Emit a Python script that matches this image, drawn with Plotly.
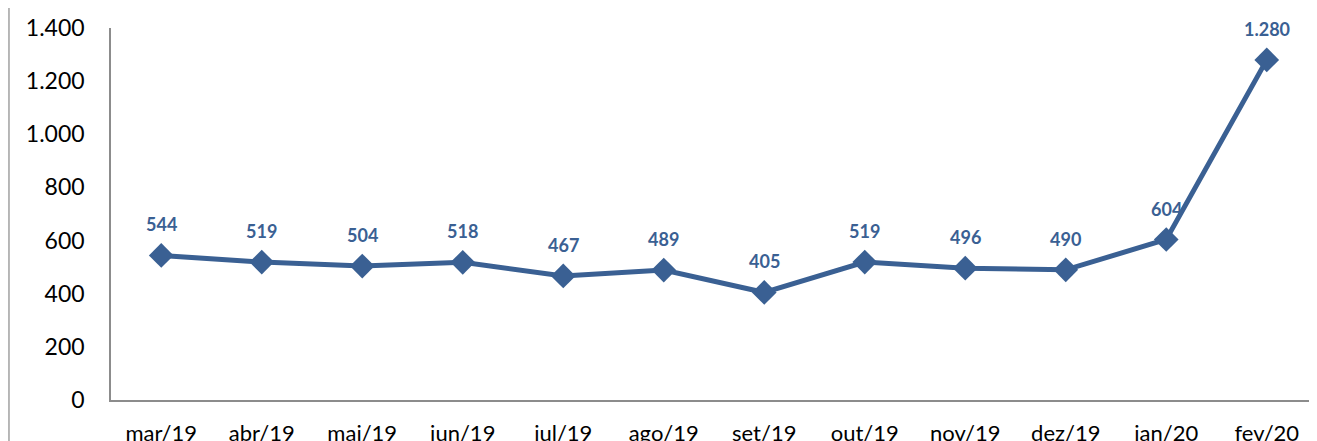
import plotly.graph_objects as go

months = ["mar/19", "abr/19", "mai/19", "jun/19", "jul/19", "ago/19",
          "set/19", "out/19", "nov/19", "dez/19", "jan/20", "fev/20"]
values = [544, 519, 504, 518, 467, 489, 405, 519, 496, 490, 604, 1280]
y_ticks = [0, 200, 400, 600, 800, 1000, 1200, 1400]
y_tick_text = ["0", "200", "400", "600", "800", "1.000", "1.200", "1.400"]


def fmt(v):
    return f"{v:,}".replace(",", ".")


color = "#3A6093"
fig = go.Figure()
fig.add_trace(go.Scatter(
    x=months, y=values, mode="lines+markers",
    line=dict(color=color, width=5),
    marker=dict(symbol="diamond", size=19, color=color),
    hoverinfo="skip",
))
for m, v in zip(months, values):
    fig.add_annotation(x=m, y=v, text=f"<b>{fmt(v)}</b>", showarrow=False,
                       yshift=31, font=dict(family="Lato", size=18, color=color))

fig.add_shape(type="line", xref="paper", yref="paper",
              x0=-0.0846, x1=-0.0846, y0=-0.2, y1=1.2,
              line=dict(color="#A0A0A0", width=1.5))

fig.update_layout(
    width=1309, height=433,
    margin=dict(l=103, r=0, t=20, b=41, autoexpand=False),
    paper_bgcolor="white", plot_bgcolor="white",
    showlegend=False,
    font=dict(family="Lato", size=22, color="#000000"),
    xaxis=dict(range=[-0.5, 11.5], showgrid=False, zeroline=False,
               showline=True, linecolor="#8C8C8C", linewidth=1.5,
               ticks="outside", ticklen=0, tickcolor="rgba(0,0,0,0)",
               ticklabelstandoff=13, automargin=False, fixedrange=True,
               tickfont=dict(size=22)),
    yaxis=dict(range=[0, 1400], tickvals=y_ticks, ticktext=y_tick_text,
               showgrid=False, zeroline=False,
               showline=True, linecolor="#8C8C8C", linewidth=1.5,
               ticks="outside", ticklen=0, tickcolor="rgba(0,0,0,0)",
               ticklabelstandoff=20, automargin=False, fixedrange=True,
               tickfont=dict(size=23)),
)
fig.write_html("out.html")
